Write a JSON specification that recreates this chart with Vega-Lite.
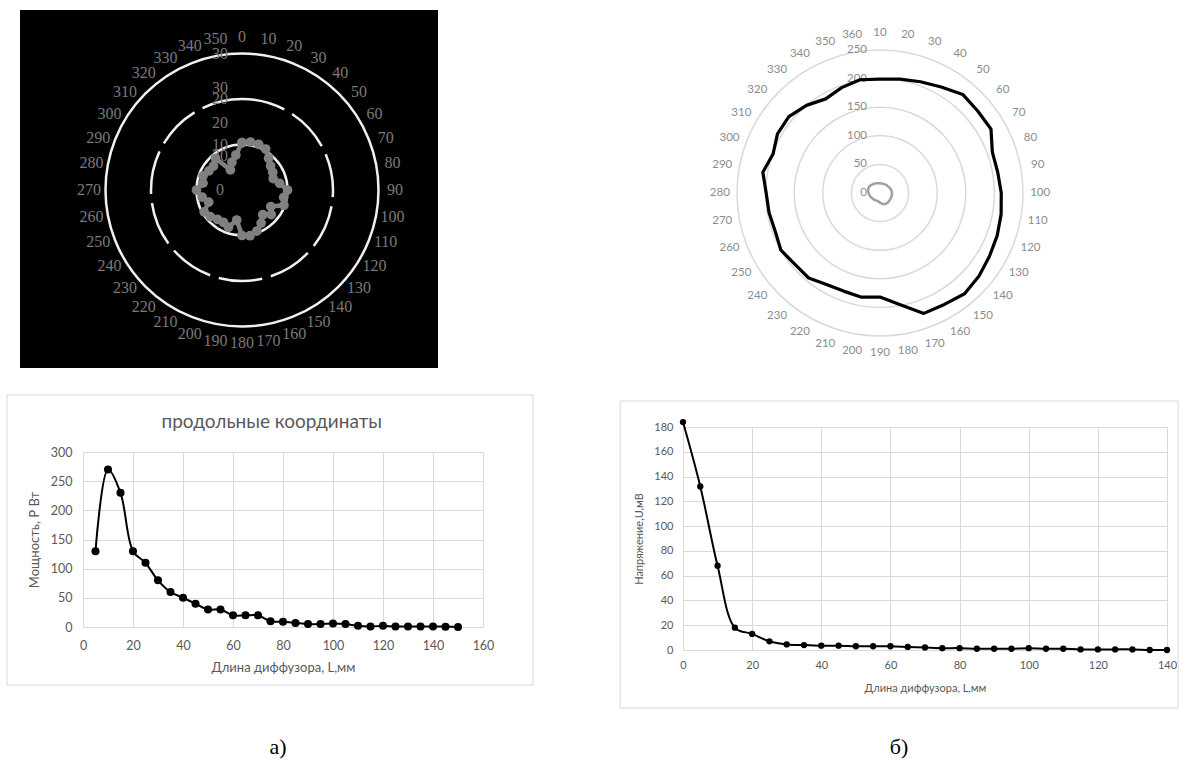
{
"$schema": "https://vega.github.io/schema/vega-lite/v6.json",
"width": 1181, "height": 774, "autosize": "none", "padding": 0, "background": "#ffffff",
"config": {"view": {"stroke": null}, "axis": {"labelFlush": false, "labelOverlap": false, "domain": false, "ticks": false, "tickSize": 0, "titleFontWeight": "normal"}},
"datasets": {
"one": [{}],
"a1": [{"a":0,"r":10.4},{"a":10,"r":10.7},{"a":20,"r":10.7},{"a":30,"r":10.4},{"a":40,"r":9.1},{"a":50,"r":8.2},{"a":60,"r":7.8},{"a":70,"r":7.3},{"a":80,"r":8.4},{"a":90,"r":10.0},{"a":100,"r":9.3},{"a":110,"r":9.8},{"a":120,"r":7.3},{"a":130,"r":8.4},{"a":140,"r":7.1},{"a":150,"r":8.4},{"a":160,"r":9.6},{"a":170,"r":10.2},{"a":180,"r":10.0},{"a":190,"r":6.7},{"a":200,"r":8.7},{"a":210,"r":8.2},{"a":220,"r":8.4},{"a":230,"r":9.1},{"a":240,"r":9.6},{"a":250,"r":7.8},{"a":260,"r":8.9},{"a":270,"r":10.0},{"a":280,"r":8.7},{"a":290,"r":9.1},{"a":300,"r":8.4},{"a":310,"r":8.2},{"a":320,"r":9.1},{"a":330,"r":5.1},{"a":340,"r":6.5},{"a":350,"r":7.8},{"a":360,"r":10.4}],
"a1ring": [{"r":10,"d":"s"},{"r":20,"d":"d"},{"r":30,"d":"s"}],
"a1ang": [{"a":0},{"a":10},{"a":20},{"a":30},{"a":40},{"a":50},{"a":60},{"a":70},{"a":80},{"a":90},{"a":100},{"a":110},{"a":120},{"a":130},{"a":140},{"a":150},{"a":160},{"a":170},{"a":180},{"a":190},{"a":200},{"a":210},{"a":220},{"a":230},{"a":240},{"a":250},{"a":260},{"a":270},{"a":280},{"a":290},{"a":300},{"a":310},{"a":320},{"a":330},{"a":340},{"a":350}],
"a1rad": [{"t":"0","r":0},{"t":"20","r":7.5},{"t":"10","r":10},{"t":"20","r":14.7},{"t":"20","r":20},{"t":"30","r":22.4},{"t":"30","r":30}],
"b1black": [{"a":0,"r":199},{"a":10,"r":202},{"a":20,"r":207},{"a":30,"r":214},{"a":40,"r":225},{"a":50,"r":223},{"a":60,"r":224},{"a":70,"r":209},{"a":80,"r":209},{"a":90,"r":212},{"a":100,"r":215},{"a":110,"r":218},{"a":120,"r":221},{"a":130,"r":226},{"a":140,"r":230},{"a":150,"r":225},{"a":160,"r":224},{"a":170,"r":198},{"a":180,"r":182},{"a":190,"r":185},{"a":200,"r":183},{"a":210,"r":185},{"a":220,"r":194},{"a":230,"r":194},{"a":240,"r":200},{"a":250,"r":195},{"a":260,"r":197},{"a":270,"r":199},{"a":280,"r":208},{"a":290,"r":199},{"a":300,"r":207},{"a":310,"r":208},{"a":320,"r":200},{"a":330,"r":190},{"a":340,"r":196},{"a":350,"r":201},{"a":360,"r":199}],
"b1gray": [{"a":0,"r":17},{"a":10,"r":17},{"a":20,"r":17},{"a":30,"r":17.5},{"a":40,"r":18},{"a":50,"r":18},{"a":60,"r":19},{"a":70,"r":20},{"a":80,"r":20.5},{"a":90,"r":21},{"a":100,"r":21},{"a":110,"r":21},{"a":120,"r":21},{"a":130,"r":21},{"a":140,"r":21.5},{"a":150,"r":21.5},{"a":160,"r":21},{"a":170,"r":19},{"a":180,"r":17},{"a":190,"r":15},{"a":200,"r":14.5},{"a":210,"r":15},{"a":220,"r":15.5},{"a":230,"r":16},{"a":240,"r":17},{"a":250,"r":18},{"a":260,"r":19},{"a":270,"r":20},{"a":280,"r":21},{"a":290,"r":22},{"a":300,"r":22},{"a":310,"r":21},{"a":320,"r":20},{"a":330,"r":19},{"a":340,"r":18},{"a":350,"r":17.5},{"a":360,"r":17}],
"b1ring": [{"r":50},{"r":100},{"r":150},{"r":200},{"r":250}],
"b1rad": [{"t":"0","r":0},{"t":"50","r":50},{"t":"100","r":100},{"t":"150","r":150},{"t":"200","r":200},{"t":"250","r":250}],
"b1ang": [{"a":0,"t":"10"},{"a":10,"t":"20"},{"a":20,"t":"30"},{"a":30,"t":"40"},{"a":40,"t":"50"},{"a":50,"t":"60"},{"a":60,"t":"70"},{"a":70,"t":"80"},{"a":80,"t":"90"},{"a":90,"t":"100"},{"a":100,"t":"110"},{"a":110,"t":"120"},{"a":120,"t":"130"},{"a":130,"t":"140"},{"a":140,"t":"150"},{"a":150,"t":"160"},{"a":160,"t":"170"},{"a":170,"t":"180"},{"a":180,"t":"190"},{"a":190,"t":"200"},{"a":200,"t":"210"},{"a":210,"t":"220"},{"a":220,"t":"230"},{"a":230,"t":"240"},{"a":240,"t":"250"},{"a":250,"t":"260"},{"a":260,"t":"270"},{"a":270,"t":"280"},{"a":280,"t":"290"},{"a":290,"t":"300"},{"a":300,"t":"310"},{"a":310,"t":"320"},{"a":320,"t":"330"},{"a":330,"t":"340"},{"a":340,"t":"350"},{"a":350,"t":"360"}],
"a2": [{"L":5,"P":130},{"L":10,"P":270},{"L":15,"P":230},{"L":20,"P":130},{"L":25,"P":110},{"L":30,"P":80},{"L":35,"P":60},{"L":40,"P":50},{"L":45,"P":40},{"L":50,"P":30},{"L":55,"P":30},{"L":60,"P":20},{"L":65,"P":20},{"L":70,"P":20},{"L":75,"P":10},{"L":80,"P":9},{"L":85,"P":7},{"L":90,"P":5},{"L":95,"P":5},{"L":100,"P":6},{"L":105,"P":5},{"L":110,"P":2},{"L":115,"P":1},{"L":120,"P":2},{"L":125,"P":1},{"L":130,"P":1},{"L":135,"P":1},{"L":140,"P":1},{"L":145,"P":0.5},{"L":150,"P":0}],
"b2": [{"L":0,"U":184},{"L":5,"U":132},{"L":10,"U":68},{"L":15,"U":18},{"L":20,"U":13},{"L":25,"U":7},{"L":30,"U":4.5},{"L":35,"U":4},{"L":40,"U":3.5},{"L":45,"U":3.5},{"L":50,"U":3},{"L":55,"U":3},{"L":60,"U":3},{"L":65,"U":2.5},{"L":70,"U":2},{"L":75,"U":1.5},{"L":80,"U":1.5},{"L":85,"U":1},{"L":90,"U":1},{"L":95,"U":1},{"L":100,"U":1.5},{"L":105,"U":1},{"L":110,"U":1},{"L":115,"U":0.5},{"L":120,"U":0.5},{"L":125,"U":0.5},{"L":130,"U":0.5},{"L":135,"U":0},{"L":140,"U":0}]
},
"resolve": {"scale": {"x": "independent", "y": "independent", "theta": "independent", "radius": "independent"}, "axis": {"x": "independent", "y": "independent"}},
"layer": [
{
 "layer": [
  {"data": {"name": "one"}, "mark": {"type": "rect", "color": "#000000"},
   "encoding": {
    "x": {"datum": -48.79, "type": "quantitative", "scale": {"domain": [-60, 60], "range": [-31, 515]}, "axis": null},
    "x2": {"datum": 43.08},
    "y": {"datum": -39.12, "type": "quantitative", "scale": {"domain": [-60, 60], "range": [463, -83]}, "axis": null},
    "y2": {"datum": 39.56}}},
  {"data": {"name": "a1ring"}, "transform": [{"filter": "datum.d == 's'"}],
   "mark": {"type": "arc", "theta": 0, "theta2": 6.2832, "fill": "transparent", "stroke": "#f0f0f0", "strokeWidth": 2.5},
   "encoding": {
    "x": {"datum": 0, "type": "quantitative", "scale": {"domain": [-60, 60], "range": [-31, 515]}, "axis": null},
    "y": {"datum": 0, "type": "quantitative", "scale": {"domain": [-60, 60], "range": [463, -83]}, "axis": null},
    "radius": {"field": "r", "type": "quantitative", "stack": null, "scale": {"type": "linear", "domain": [0, 40], "range": [0, 182]}}}},
  {"data": {"name": "a1ring"}, "transform": [{"filter": "datum.d == 'd'"}],
   "mark": {"type": "arc", "theta": 0, "theta2": 6.2832, "fill": "transparent", "stroke": "#f0f0f0", "strokeWidth": 2.5, "strokeDash": [44, 9]},
   "encoding": {
    "x": {"datum": 0, "type": "quantitative", "scale": {"domain": [-60, 60], "range": [-31, 515]}, "axis": null},
    "y": {"datum": 0, "type": "quantitative", "scale": {"domain": [-60, 60], "range": [463, -83]}, "axis": null},
    "radius": {"field": "r", "type": "quantitative", "stack": null, "scale": {"type": "linear", "domain": [0, 40], "range": [0, 182]}}}},
  {"data": {"name": "a1ang"},
   "mark": {"type": "text", "font": "Liberation Serif", "fontSize": 16, "color": "#7a7a7a", "align": "center", "baseline": "middle"},
   "encoding": {
    "x": {"datum": 0, "type": "quantitative", "scale": {"domain": [-60, 60], "range": [-31, 515]}, "axis": null},
    "y": {"datum": 0, "type": "quantitative", "scale": {"domain": [-60, 60], "range": [463, -83]}, "axis": null},
    "theta": {"field": "a", "type": "quantitative", "stack": null, "scale": {"domain": [0, 360]}},
    "radius": {"datum": 33.6, "type": "quantitative", "stack": null, "scale": {"type": "linear", "domain": [0, 40], "range": [0, 182]}},
    "text": {"field": "a", "type": "quantitative"}}},
  {"data": {"name": "a1rad"},
   "mark": {"type": "text", "font": "Liberation Serif", "fontSize": 16, "color": "#7a7a7a", "align": "center", "baseline": "middle", "dx": -22},
   "encoding": {
    "x": {"datum": 0, "type": "quantitative", "scale": {"domain": [-60, 60], "range": [-31, 515]}, "axis": null},
    "y": {"field": "r", "type": "quantitative", "scale": {"domain": [-60, 60], "range": [463, -83]}, "axis": null},
    "text": {"field": "t", "type": "nominal"}}},
  {"data": {"name": "a1"},
   "transform": [{"calculate": "datum.r * sin(datum.a * PI / 180)", "as": "px"}, {"calculate": "datum.r * cos(datum.a * PI / 180)", "as": "py"}],
   "mark": {"type": "line", "color": "#808080", "strokeWidth": 4.5, "strokeJoin": "round"},
   "encoding": {
    "x": {"field": "px", "type": "quantitative", "scale": {"domain": [-60, 60], "range": [-31, 515]}, "axis": null},
    "y": {"field": "py", "type": "quantitative", "scale": {"domain": [-60, 60], "range": [463, -83]}, "axis": null},
    "order": {"field": "a", "type": "quantitative"}}},
  {"data": {"name": "a1"},
   "transform": [{"calculate": "datum.r * sin(datum.a * PI / 180)", "as": "px"}, {"calculate": "datum.r * cos(datum.a * PI / 180)", "as": "py"}],
   "mark": {"type": "point", "filled": true, "color": "#808080", "opacity": 1, "size": 95},
   "encoding": {
    "x": {"field": "px", "type": "quantitative", "scale": {"domain": [-60, 60], "range": [-31, 515]}, "axis": null},
    "y": {"field": "py", "type": "quantitative", "scale": {"domain": [-60, 60], "range": [463, -83]}, "axis": null}}}
 ]
},
{
 "layer": [
  {"data": {"name": "b1ring"},
   "mark": {"type": "arc", "theta": 0, "theta2": 6.2832, "fill": "transparent", "stroke": "#d9d9d9", "strokeWidth": 1.5},
   "encoding": {
    "x": {"datum": 0, "type": "quantitative", "scale": {"domain": [-300, 300], "range": [708.4, 1051.6]}, "axis": null},
    "y": {"datum": 0, "type": "quantitative", "scale": {"domain": [-300, 300], "range": [364.6, 21.4]}, "axis": null},
    "radius": {"field": "r", "type": "quantitative", "stack": null, "scale": {"type": "linear", "domain": [0, 300], "range": [0, 171.6]}}}},
  {"data": {"name": "b1ang"},
   "mark": {"type": "text", "font": "Lato", "fontSize": 11.5, "color": "#8c8c8c", "align": "center", "baseline": "middle"},
   "encoding": {
    "x": {"datum": 0, "type": "quantitative", "scale": {"domain": [-300, 300], "range": [708.4, 1051.6]}, "axis": null},
    "y": {"datum": 0, "type": "quantitative", "scale": {"domain": [-300, 300], "range": [364.6, 21.4]}, "axis": null},
    "theta": {"field": "a", "type": "quantitative", "stack": null, "scale": {"domain": [0, 360]}},
    "radius": {"datum": 280, "type": "quantitative", "stack": null, "scale": {"type": "linear", "domain": [0, 300], "range": [0, 171.6]}},
    "text": {"field": "t", "type": "nominal"}}},
  {"data": {"name": "b1rad"},
   "mark": {"type": "text", "font": "Lato", "fontSize": 11.5, "color": "#8c8c8c", "align": "right", "baseline": "middle", "dx": -13},
   "encoding": {
    "x": {"datum": 0, "type": "quantitative", "scale": {"domain": [-300, 300], "range": [708.4, 1051.6]}, "axis": null},
    "y": {"field": "r", "type": "quantitative", "scale": {"domain": [-300, 300], "range": [364.6, 21.4]}, "axis": null},
    "text": {"field": "t", "type": "nominal"}}},
  {"data": {"name": "b1black"},
   "transform": [{"calculate": "datum.r * sin(datum.a * PI / 180)", "as": "px"}, {"calculate": "datum.r * cos(datum.a * PI / 180)", "as": "py"}],
   "mark": {"type": "line", "color": "#000000", "strokeWidth": 3.2, "strokeJoin": "round"},
   "encoding": {
    "x": {"field": "px", "type": "quantitative", "scale": {"domain": [-300, 300], "range": [708.4, 1051.6]}, "axis": null},
    "y": {"field": "py", "type": "quantitative", "scale": {"domain": [-300, 300], "range": [364.6, 21.4]}, "axis": null},
    "order": {"field": "a", "type": "quantitative"}}},
  {"data": {"name": "b1gray"},
   "transform": [{"calculate": "datum.r * sin(datum.a * PI / 180)", "as": "px"}, {"calculate": "datum.r * cos(datum.a * PI / 180)", "as": "py"}],
   "mark": {"type": "line", "color": "#a0a0a0", "strokeWidth": 2.5, "strokeJoin": "round"},
   "encoding": {
    "x": {"field": "px", "type": "quantitative", "scale": {"domain": [-300, 300], "range": [708.4, 1051.6]}, "axis": null},
    "y": {"field": "py", "type": "quantitative", "scale": {"domain": [-300, 300], "range": [364.6, 21.4]}, "axis": null},
    "order": {"field": "a", "type": "quantitative"}}}
 ]
},
{
 "resolve": {"axis": {"x": "independent", "y": "independent"}},
 "layer": [
  {"data": {"name": "one"}, "mark": {"type": "rect", "fill": "transparent", "stroke": "#d9d9d9", "strokeWidth": 1},
   "encoding": {
    "x": {"datum": -30.4, "type": "quantitative", "scale": {"domain": [0, 160], "range": [83, 483]}, "axis": null},
    "x2": {"datum": 180},
    "y": {"datum": -99.4, "type": "quantitative", "scale": {"domain": [0, 300], "range": [627, 452]}, "axis": null},
    "y2": {"datum": 397.7}}},
  {"data": {"name": "one"}, "mark": {"type": "text", "text": "продольные координаты", "font": "Lato", "fontSize": 19, "color": "#595959", "align": "center", "baseline": "middle"},
   "encoding": {
    "x": {"datum": 75.5, "type": "quantitative", "scale": {"domain": [0, 160], "range": [83, 483]}, "axis": null},
    "y": {"datum": 351, "type": "quantitative", "scale": {"domain": [0, 300], "range": [627, 452]}, "axis": null}}},
  {"data": {"name": "one"}, "mark": {"type": "text", "text": "а)", "font": "Liberation Serif", "fontSize": 22, "color": "#000000", "align": "center", "baseline": "middle"},
   "encoding": {
    "x": {"datum": 78, "type": "quantitative", "scale": {"domain": [0, 160], "range": [83, 483]}, "axis": null},
    "y": {"datum": -205.7, "type": "quantitative", "scale": {"domain": [0, 300], "range": [627, 452]}, "axis": null}}},
  {"data": {"name": "a2"},
   "mark": {"type": "line", "color": "#000000", "strokeWidth": 2, "interpolate": "catmull-rom"},
   "encoding": {
    "x": {"field": "L", "type": "quantitative", "scale": {"domain": [0, 160], "range": [83, 483]},
      "axis": {"orient": "top", "grid": true, "gridColor": "#d9d9d9", "gridWidth": 1, "labels": false, "title": null, "values": [0,20,40,60,80,100,120,140,160]}},
    "y": {"field": "P", "type": "quantitative", "scale": {"domain": [0, 300], "range": [627, 452]},
      "axis": {"orient": "left", "offset": -83, "grid": true, "gridColor": "#d9d9d9", "gridWidth": 1, "values": [0,50,100,150,200,250,300], "labelFont": "Lato", "labelFontSize": 12.5, "labelColor": "#595959", "labelPadding": 11, "title": "Мощность, Р Вт", "titleFont": "Lato", "titleFontSize": 13, "titleColor": "#595959", "titlePadding": 9}}}},
  {"data": {"name": "a2"},
   "mark": {"type": "point", "filled": true, "color": "#000000", "opacity": 1, "size": 65},
   "encoding": {
    "x": {"field": "L", "type": "quantitative", "scale": {"domain": [0, 160], "range": [83, 483]},
      "axis": {"orient": "bottom", "offset": -147, "grid": false, "values": [0,20,40,60,80,100,120,140,160], "labelFont": "Lato", "labelFontSize": 12.5, "labelColor": "#595959", "labelPadding": 12, "title": "Длина диффузора, L,мм", "titleFont": "Lato", "titleFontSize": 13, "titleColor": "#595959", "titlePadding": 10}},
    "y": {"field": "P", "type": "quantitative", "scale": {"domain": [0, 300], "range": [627, 452]}, "axis": null}}}
 ]
},
{
 "resolve": {"axis": {"x": "independent", "y": "independent"}},
 "layer": [
  {"data": {"name": "one"}, "mark": {"type": "rect", "fill": "transparent", "stroke": "#d9d9d9", "strokeWidth": 1},
   "encoding": {
    "x": {"datum": -18.2, "type": "quantitative", "scale": {"domain": [0, 140], "range": [683, 1167]}, "axis": null},
    "x2": {"datum": 143.2},
    "y": {"datum": -46.8, "type": "quantitative", "scale": {"domain": [0, 180], "range": [650, 427]}, "axis": null},
    "y2": {"datum": 201}}},
  {"data": {"name": "one"}, "mark": {"type": "text", "text": "б)", "font": "Liberation Serif", "fontSize": 22, "color": "#000000", "align": "center", "baseline": "middle"},
   "encoding": {
    "x": {"datum": 62.5, "type": "quantitative", "scale": {"domain": [0, 140], "range": [683, 1167]}, "axis": null},
    "y": {"datum": -78.3, "type": "quantitative", "scale": {"domain": [0, 180], "range": [650, 427]}, "axis": null}}},
  {"data": {"name": "b2"},
   "mark": {"type": "line", "color": "#000000", "strokeWidth": 2, "interpolate": "catmull-rom"},
   "encoding": {
    "x": {"field": "L", "type": "quantitative", "scale": {"domain": [0, 140], "range": [683, 1167]},
      "axis": {"orient": "top", "grid": true, "gridColor": "#d9d9d9", "gridWidth": 1, "labels": false, "title": null, "values": [0,20,40,60,80,100,120,140]}},
    "y": {"field": "U", "type": "quantitative", "scale": {"domain": [0, 180], "range": [650, 427]},
      "axis": {"orient": "left", "offset": -683, "grid": true, "gridColor": "#d9d9d9", "gridWidth": 1, "values": [0,20,40,60,80,100,120,140,160,180], "labelFont": "Lato", "labelFontSize": 11, "labelColor": "#595959", "labelPadding": 10, "title": "Напряжение,U,мВ", "titleFont": "Lato", "titleFontSize": 11, "titleColor": "#595959", "titlePadding": 9}}}},
  {"data": {"name": "b2"},
   "mark": {"type": "point", "filled": true, "color": "#000000", "opacity": 1, "size": 40},
   "encoding": {
    "x": {"field": "L", "type": "quantitative", "scale": {"domain": [0, 140], "range": [683, 1167]},
      "axis": {"orient": "bottom", "offset": -124, "grid": false, "values": [0,20,40,60,80,100,120,140], "labelFont": "Lato", "labelFontSize": 11, "labelColor": "#595959", "labelPadding": 9, "title": "Длина диффузора, L,мм", "titleFont": "Lato", "titleFontSize": 11, "titleColor": "#595959", "titlePadding": 12}},
    "y": {"field": "U", "type": "quantitative", "scale": {"domain": [0, 180], "range": [650, 427]}, "axis": null}}}
 ]
}
]
}
